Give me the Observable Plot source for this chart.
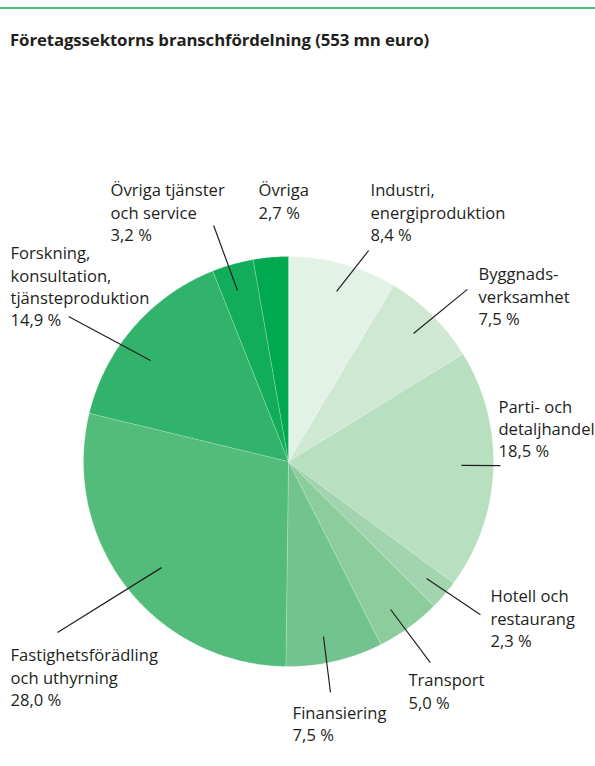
<!DOCTYPE html>
<html>
<head>
<meta charset="utf-8">
<script src="https://cdn.jsdelivr.net/npm/d3@7"></script>
<script src="https://cdn.jsdelivr.net/npm/@observablehq/plot@0.6"></script>
<style>
  html, body { margin: 0; padding: 0; background: #fff; }
  body { width: 595px; height: 766px; position: relative; overflow: hidden; font-family: "Open Sans", sans-serif; color: #231f20; }
  #topline { position: absolute; left: 0; top: 7px; width: 595px; height: 2px; background: #4cbf7a; }
  #title { position: absolute; left: 10px; top: 28px; margin: 0; font-size: 16.8px; line-height: 23px; font-weight: 700; white-space: nowrap; letter-spacing: -0.1px; }
  #chart { position: absolute; left: 0; top: 60px; }
</style>
</head>
<body>
<div id="topline"></div>
<h1 id="title">Företagssektorns branschfördelning (553 mn euro)</h1>
<div id="chart"></div>
<script>
// ---- data ----
const categories = [
  "Industri, energiproduktion",
  "Byggnadsverksamhet",
  "Parti- och detaljhandel",
  "Hotell och restaurang",
  "Transport",
  "Finansiering",
  "Fastighetsförädling och uthyrning",
  "Forskning, konsultation, tjänsteproduktion",
  "Övriga tjänster och service",
  "Övriga"
];
const shares = [8.4, 7.5, 18.5, 2.3, 5.0, 7.5, 28.0, 14.9, 3.2, 2.7];
const labelLines = [
  ["Industri,", "energiproduktion"],
  ["Byggnads-", "verksamhet"],
  ["Parti- och", "detaljhandel"],
  ["Hotell och", "restaurang"],
  ["Transport"],
  ["Finansiering"],
  ["Fastighetsförädling", "och uthyrning"],
  ["Forskning,", "konsultation,", "tjänsteproduktion"],
  ["Övriga tjänster", "och service"],
  ["Övriga"]
];
const colors = ["#e3f2e6", "#cfe8d4", "#b7dfc0", "#a2d4ae", "#8ccd9c", "#72c38d", "#53bc7a", "#31b36b", "#12ad5a", "#00a84f"];

// ---- layout (label anchors in pie-radius units; leader ends in polar form) ----
const labelPos = [
  [0.400, 1.37], [0.927, 0.96], [1.024, 0.316], [0.985, -0.61], [0.585, -1.02],
  [0.020, -1.18], [-1.356, -0.898], [-1.356, 1.063], [-0.868, 1.37], [-0.146, 1.37]
];
const leaderOuter = [
  [20.8, 1.101], [46.1, 1.211], [91.1, 1.034], [128.6, 1.198], [144.8, 1.2],
  [169.7, 1.145], [233.5, 1.402], [303.4, 1.285], [342.4, 1.208], null
];
const leaderInner = [
  [15.8, 0.862], [44.3, 0.873], [91.3, 0.844], [130.3, 0.883], [145.4, 0.877],
  [168.7, 0.871], [230.1, 0.807], [306.2, 0.834], [343.4, 0.870], null
];

const fmt = v => v.toFixed(1).replace(".", ",") + " %";

const pie = d3.pie().sort(null).value(d => d.share).startAngle(0).endAngle(2 * Math.PI);
const rows = categories.map((c, i) => ({cat: c, share: shares[i], i}));
const arcs = pie(rows);

// slice polygons (unit radius)
const poly = [];
arcs.forEach(a => {
  const key = a.data.cat;
  poly.push({key, x: 0, y: 0});
  const n = Math.max(2, Math.ceil((a.endAngle - a.startAngle) / (Math.PI / 360)));
  for (let k = 0; k <= n; k++) {
    const t = a.startAngle + (a.endAngle - a.startAngle) * k / n;
    poly.push({key, x: Math.sin(t), y: Math.cos(t)});
  }
  poly.push({key, x: 0, y: 0});
});

// leader lines
const rad = d => d * Math.PI / 180;
const leaders = [];
arcs.forEach((a, i) => {
  if (!leaderOuter[i]) return;
  const [di, ri] = leaderInner[i];
  const [dout, ro] = leaderOuter[i];
  leaders.push({
    x1: ri * Math.sin(rad(di)), y1: ri * Math.cos(rad(di)),
    x2: ro * Math.sin(rad(dout)), y2: ro * Math.cos(rad(dout))
  });
});

// labels
const labels = rows.map((r, i) => ({
  text: [...labelLines[i], fmt(r.share)].join("\n"),
  x: labelPos[i][0], y: labelPos[i][1]
}));

const W = 595, H = 706, R = 205, cx = 288, cy = 401;
const chart = Plot.plot({
  width: W, height: H,
  margin: 0,
  x: {domain: [-cx / R, (W - cx) / R], range: [0, W], axis: null},
  y: {domain: [cy / R, -(H - cy) / R], range: [0, H], axis: null},
  color: {type: "ordinal", domain: categories, range: colors},
  style: {fontFamily: "Open Sans, sans-serif", background: "transparent"},
  marks: [
    Plot.line(poly, {x: "x", y: "y", z: "key", fill: "key", stroke: "#ffffff", strokeWidth: 0.4, strokeOpacity: 0.5, curve: "linear-closed"}),
    Plot.link(leaders, {x1: "x1", y1: "y1", x2: "x2", y2: "y2", stroke: "#231f20", strokeWidth: 1.2}),
    Plot.text(labels, {x: "x", y: "y", text: "text", textAnchor: "start", lineAnchor: "top", lineHeight: 1.34, fontSize: 16.6, fill: "#231f20"})
  ]
});
document.getElementById("chart").appendChild(chart);
</script>
</body>
</html>
